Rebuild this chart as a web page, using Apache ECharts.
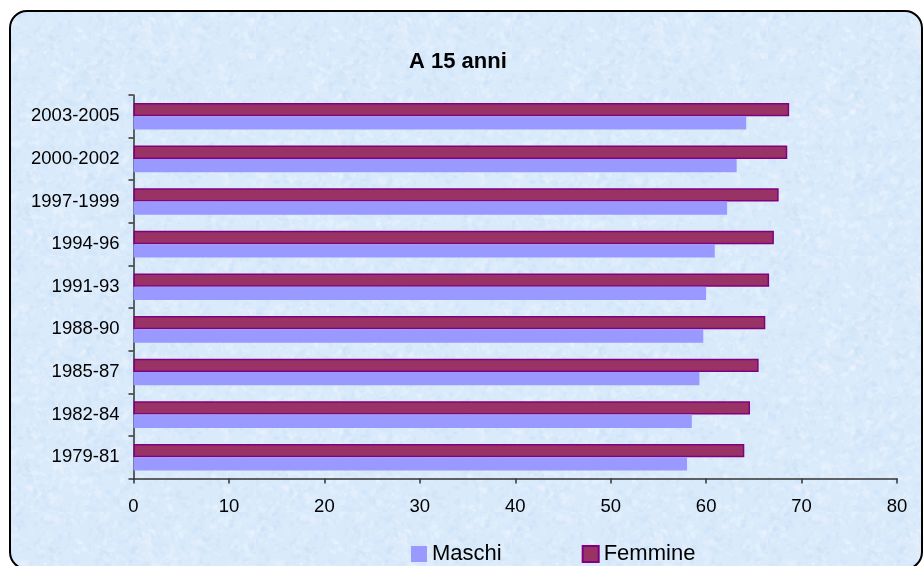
<!DOCTYPE html>
<html>
<head>
<meta charset="utf-8">
<script src="https://cdn.jsdelivr.net/npm/echarts@6/dist/echarts.min.js"></script>
<style>
  html, body { margin: 0; padding: 0; background: #ffffff; }
  #chart { width: 923px; height: 566px; }
</style>
</head>
<body>
<div id="chart"></div>
<script>
// Periods on the category axis (bottom to top)
const periods = ['1979-81', '1982-84', '1985-87', '1988-90', '1991-93', '1994-96', '1997-1999', '2000-2002', '2003-2005'];
// Life expectancy at age 15 (years)
const maschi  = [58.0, 58.5, 59.3, 59.7, 60.0, 60.9, 62.2, 63.2, 64.2];
const femmine = [64.0, 64.6, 65.5, 66.2, 66.6, 67.1, 67.6, 68.5, 68.7];
// Value axis ticks
const xTicks = { min: 0, max: 80, interval: 10 };

// Soft mottled light-blue paper texture for the chart area (deterministic)
function paperTexture() {
  const c = document.createElement('canvas');
  c.width = 256; c.height = 256;
  const g = c.getContext('2d');
  g.fillStyle = '#d9eafb';
  g.fillRect(0, 0, 256, 256);
  let s = 98765;
  const rnd = () => { s = (s * 1103515245 + 12345) & 0x7fffffff; return s / 0x7fffffff; };
  for (let i = 0; i < 2600; i++) {
    const x = rnd() * 256, y = rnd() * 256, r = 0.8 + rnd() * 2.5;
    const light = rnd() < 0.55;
    g.fillStyle = light ? 'rgba(248,250,255,' + (0.08 + rnd() * 0.2) + ')'
                        : 'rgba(190,218,245,' + (0.06 + rnd() * 0.15) + ')';
    g.beginPath();
    g.ellipse(x, y, r * 1.6, r * (0.5 + rnd() * 0.6), rnd() * Math.PI, 0, Math.PI * 2);
    g.fill();
  }
  return c;
}

const chart = echarts.init(document.getElementById('chart'), null, { renderer: 'canvas' });
const font = '"Liberation Sans", Arial, sans-serif';

chart.setOption({
  backgroundColor: '#ffffff',
  animation: false,
  graphic: [{
    type: 'rect',
    z: -10,
    shape: { x: 10, y: 11, width: 912, height: 558, r: 17 },
    style: { fill: { image: paperTexture(), repeat: 'repeat' }, stroke: '#000000', lineWidth: 2 }
  }],
  title: {
    text: 'A 15 anni',
    left: 404, top: 46,
    textStyle: { fontFamily: font, fontSize: 22, fontWeight: 'bold', color: '#000' }
  },
  legend: {
    left: 406, top: 538,
    itemWidth: 16, itemHeight: 16, itemGap: 80,
    icon: 'rect',
    textStyle: { fontFamily: font, fontSize: 22, color: '#000' },
    data: ['Maschi', 'Femmine']
  },
  grid: { left: 133.5, right: 26, top: 95, bottom: 87.5, containLabel: false },
  xAxis: {
    type: 'value',
    min: xTicks.min, max: xTicks.max, interval: xTicks.interval,
    axisLine: { show: true, lineStyle: { color: '#333', width: 1.5 } },
    axisTick: { show: true, length: 5, lineStyle: { color: '#333', width: 1.5 } },
    splitLine: { show: false },
    axisLabel: { margin: 19, fontFamily: font, fontSize: 18.5, color: '#000' }
  },
  yAxis: {
    type: 'category',
    data: periods,
    axisLine: { show: true, lineStyle: { color: '#333', width: 1.5 } },
    axisTick: { show: true, length: 5, lineStyle: { color: '#333', width: 1.5 } },
    axisLabel: { margin: 14, fontFamily: font, fontSize: 18.5, color: '#000' }
  },
  series: [
    {
      name: 'Femmine', type: 'bar', data: femmine,
      barWidth: 13.3, barGap: '0%',
      itemStyle: { color: '#993366', borderColor: '#800080', borderWidth: 1.5 }
    },
    {
      name: 'Maschi', type: 'bar', data: maschi,
      barWidth: 13.3, barGap: '0%',
      itemStyle: { color: '#9999ff' }
    }
  ]
});
</script>
</body>
</html>
